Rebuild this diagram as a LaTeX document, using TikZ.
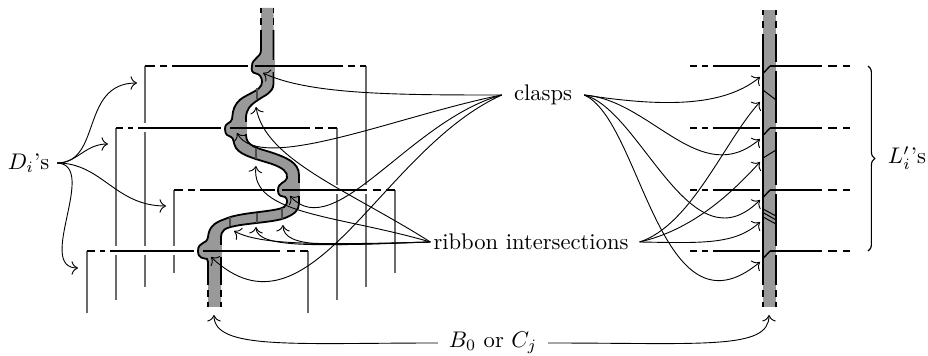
\documentclass[tikz,border=0pt]{standalone}
\usetikzlibrary{decorations.pathreplacing,arrows.meta}
\definecolor{rib}{gray}{0.6}
\definecolor{vert}{gray}{0.42}
\def\leftedge{(261,30) -- (261,50) .. controls (261,58) and (252,58) .. (252,66)
 .. controls (251,70) and (252,73) .. (256,73.5)
 .. controls (260,74) and (262,78) .. (262,82)
 .. controls (262,92) and (243,94) .. (237,103)
 .. controls (232,110) and (233,114) .. (232,119)
 .. controls (231,124) and (225,122) .. (225,129)
 .. controls (225,135) and (228,136) .. (231,137)
 .. controls (234,138) and (233,143) .. (236,148)
 .. controls (241,156) and (260,160) .. (272,164)
 .. controls (283,168) and (288,172) .. (287,178)
 .. controls (286,183) and (278,182) .. (278,190)
 .. controls (278,197) and (282,196) .. (285,197)
 .. controls (288,199) and (288,204) .. (284,207)
 .. controls (276,212) and (240,212) .. (225,219)
 .. controls (213,223) and (209,228) .. (208,237)
 .. controls (207,245) and (198,241) .. (198,251)
 .. controls (198,259) and (204,258) .. (207,259)
 -- (208,262) -- (208,285)}
\def\rightedge{(221,285) -- (221,238)
 .. controls (221,230) and (225,228) .. (235,226)
 .. controls (250,223) and (275,222) .. (285,218)
 .. controls (295,214) and (299,210) .. (299,203)
 -- (299,175)
 .. controls (299,162) and (285,157) .. (270,152)
 .. controls (257,148) and (246,146) .. (246,135)
 -- (246,118)
 .. controls (246,110) and (250,105) .. (258,100)
 .. controls (265,95) and (273,93) .. (273.5,84)
 -- (273.5,30)}
\tikzset{
  x=0.4425pt,y=-0.4425pt,
  hline/.style={black,line width=0.8pt},
  vline/.style={vert,line width=0.5pt},
  edgeline/.style={black,line width=0.8pt},
  crossline/.style={vert!70!black,line width=0.5pt},
  slash/.style={black,line width=0.45pt},
  pointer/.style={black,line width=0.4pt,-{Computer Modern Rightarrow[scale=1.15]}},
  label/.style={inner sep=0pt,outer sep=0pt},
}
\begin{document}
\begin{tikzpicture}
\useasboundingbox (0,0) rectangle (928,356);
% verticals
\foreach \x/\a/\b in {145/66/123,145/132/246,145/255/287,116/128/246,116/255/300,174/190/246,174/255/273,87/251/313,
  366/66/185,366/194/287,337/128/185,337/194/300,395/190/273,308/251/313}
  \draw[vline] (\x,\a) -- (\x,\b);
% left ribbon
\fill[rib] (261,8) -- \leftedge -- (208,307) -- (221,307) -- \rightedge -- (273.5,8) -- cycle;
\draw[edgeline] \leftedge;
\draw[edgeline] \rightedge;
\foreach \x in {261,273.5}{\draw[edgeline] (\x,8)--(\x,13) (\x,18)--(\x,25);}
\foreach \x in {208,221}{\draw[edgeline] (\x,290)--(\x,297) (\x,302)--(\x,307);}
% ribbon gaps
\draw[rib,line width=1.2pt] (273.5,60)--(273.5,72) (246,122)--(246,134) (299,183)--(299,196) (221,245)--(221,257);
\draw[crossline] (257,88)--(257,99) (256,148)--(256,159) (230,217)--(230,226) (257,213)--(257,223) (282,208)--(282,219);
% horizontals
\foreach \y/\la/\lb/\lc/\ld/\le/\lf/\rs/\ra/\rb/\rc/\rd/\re in {
  66/145/155/160/167/172/248/255/343/348/355/360/366,
  128/116/123/128/133/138/221/230/310/315/323/328/337,
  190/174/183/188/195/200/275/282/367/373/381/386/395,
  251/87/95/100/105/110/194/203/280/287/295/300/308}{
  \draw[hline] (\la,\y)--(\lb,\y) (\lc,\y)--(\ld,\y) (\le,\y)--(\lf,\y)
    (\rs,\y)--(\ra,\y) (\rb,\y)--(\rc,\y) (\rd,\y)--(\re,\y);}
% right ribbon
\fill[rib] (763,10) rectangle (776,307);
\foreach \x in {763,776}{
  \draw[edgeline] (\x,10)--(\x,15) (\x,21)--(\x,28) (\x,290)--(\x,297) (\x,302)--(\x,307);}
\draw[edgeline] (763,34)--(763,285);
\draw[edgeline] (776,34)--(776,62) (776,71)--(776,123) (776,132)--(776,185) (776,194)--(776,246) (776,255)--(776,285);
\foreach \y in {66,128,190,251}{
  \draw[hline] (690,\y)--(697,\y) (702,\y)--(708,\y) (713,\y)--(760,\y)
    (770,\y)--(822,\y) (828,\y)--(837,\y) (843,\y)--(850,\y);
  \draw[black,line width=0.6pt] (763,\y+7.5)--(770,\y);}
\draw[slash] (763,90)--(776,100) (763,158)--(776,150) (763,209)--(776,216) (763,212.5)--(776,220) (763,217)--(776,224);
% labels
\node[label,inner xsep=3.5pt] (dlab) at (28.5,163) {$D_i$'s};
\node[label,inner xsep=5.4pt] (clasps) at (543,95) {clasps};
\node[label,inner xsep=1.4pt] (ribint) at (531,242) {ribbon intersections};
\node[label,inner xsep=4.9pt] (bc) at (493,343) {$B_0$ or $C_j$};
\node[label] (lab) at (907,158) {$L_i'$'s};
\coordinate (braceA) at (868,66); \coordinate (braceB) at (868,251);
\draw[black,line width=0.5pt,decorate,decoration={brace,amplitude=3pt}] (braceA)--(braceB);
% targets
\coordinate (d1) at (137,83); \coordinate (d2) at (108,144); \coordinate (d3) at (166,206); \coordinate (d4) at (78,268);
\coordinate (c1) at (263,73); \coordinate (c2) at (237,133); \coordinate (c3) at (290,196); \coordinate (c4) at (211,257);
\coordinate (r1) at (256,107); \coordinate (r2) at (256,166); \coordinate (r3) at (283,225); \coordinate (r4) at (256,227); \coordinate (r5) at (234,231);
\coordinate (C1) at (760,77); \coordinate (C2) at (760,139); \coordinate (C3) at (760,200); \coordinate (C4) at (760,262);
\coordinate (R1) at (760,102); \coordinate (R2) at (760,162); \coordinate (R3) at (760,222);
\coordinate (bl) at (214,315); \coordinate (br) at (769,315);
% arrows
\draw[pointer] (dlab.east) .. controls +(45,0) and (80,83) .. (d1);
\draw[pointer] (dlab.east) .. controls +(20,0) and (85,144) .. (d2);
\draw[pointer] (dlab.east) .. controls +(45,0) and (115,206) .. (d3);
\draw[pointer] (dlab.east) .. controls +(42,2) and (35,268) .. (d4);
\draw[pointer] (clasps.west) .. controls +(-102,0) and (310,95) .. (c1);
\draw[pointer] (clasps.west) .. controls +(-102,20) and (260,175) .. (c2);
\draw[pointer] (clasps.west) .. controls +(-92,25) and (335,245) .. (c3);
\draw[pointer] (clasps.west) .. controls +(-122,55) and (310,350) .. (c4);
\draw[pointer] (ribint.west) .. controls +(-82,-52) and (265,160) .. (r1);
\draw[pointer] (ribint.west) .. controls +(-92,-27) and (250,215) .. (r2);
\draw[pointer] (ribint.west) .. controls +(-92,3) and (283,250) .. (r3);
\draw[pointer] (ribint.west) .. controls +(-102,3) and (256,250) .. (r4);
\draw[pointer] (ribint.west) .. controls +(-112,3) and (260,245) .. (r5);
\draw[pointer] (clasps.east) .. controls +(67,10) and (720,110) .. (C1);
\draw[pointer] (clasps.east) .. controls +(67,5) and (700,190) .. (C2);
\draw[pointer] (clasps.east) .. controls +(57,15) and (690,270) .. (C3);
\draw[pointer] (clasps.east) .. controls +(57,25) and (660,345) .. (C4);
\draw[pointer] ([xshift=3.5pt]ribint.east) .. controls +(52,-17) and (725,140) .. (R1);
\draw[pointer] ([xshift=3.5pt]ribint.east) .. controls +(52,-12) and (730,195) .. (R2);
\draw[pointer] ([xshift=3.5pt]ribint.east) .. controls +(62,1) and (735,245) .. (R3);
\draw[pointer] (bc.west) .. controls +(-144,0) and (214,350) .. (bl);
\draw[pointer] (bc.east) .. controls +(155,0) and (769,350) .. (br);
\end{tikzpicture}
\end{document}
